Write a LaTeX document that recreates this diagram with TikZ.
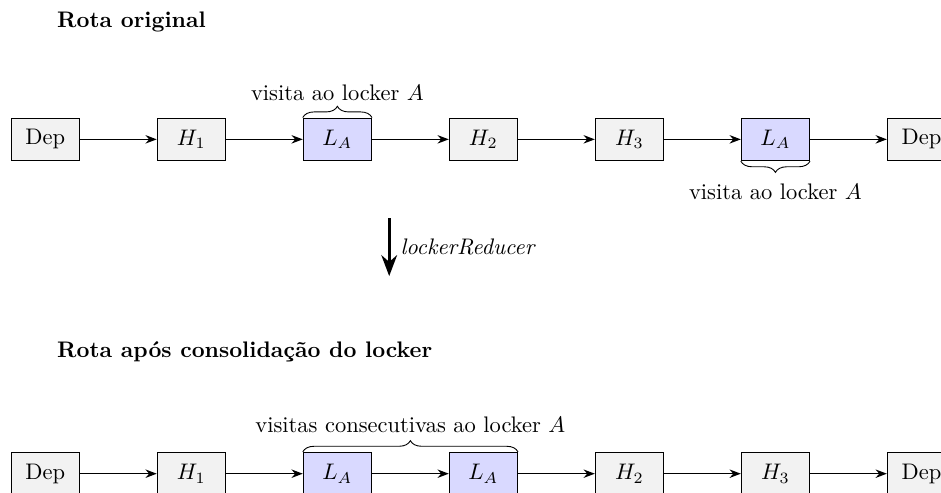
\documentclass[tikz,border=0pt]{standalone}
\usetikzlibrary{positioning,arrows.meta,decorations.pathreplacing}

\tikzset{
    stop/.style={draw, semithick, fill=gray!10, minimum width=1.06cm, minimum height=0.66cm, inner sep=2pt},
    locker/.style={stop, fill=blue!15},
    hop/.style={semithick, -{Stealth[length=5pt]}},
    bracetop/.style={decorate, decoration={brace, amplitude=5pt}, thin},
}

\begin{document}
\begin{tikzpicture}[node distance=1.2cm]
    \useasboundingbox (0,0) rectangle (14.70,-7.69);

    % Original route
    \node[anchor=west] (title1) at (0.77,-0.35) {\textbf{Rota original}};
    \node[stop] (a0) at (0.708,-2.177) {Dep};
    \node[stop, right=of a0] (a1) {$H_1$};
    \node[locker, right=of a1] (a2) {$L_A$};
    \node[stop, right=of a2] (a3) {$H_2$};
    \node[stop, right=of a3] (a4) {$H_3$};
    \node[locker, right=of a4] (a5) {$L_A$};
    \node[stop, right=of a5] (a6) {Dep};
    \foreach \i/\j in {0/1,1/2,2/3,3/4,4/5,5/6} {
        \draw[hop] (a\i) -- (a\j);
    }
    \draw[bracetop] (a2.north west) -- (a2.north east)
        node[midway, above=4pt] {visita ao locker $A$};
    \draw[bracetop] (a5.south east) -- (a5.south west)
        node[midway, below=6.5pt] {visita ao locker $A$};

    % Reduction step
    \coordinate (redtop) at (6.08,-3.406);
    \coordinate (redbot) at (6.08,-4.313);
    \draw[line width=1.4pt, -{Stealth}] (redtop) -- (redbot)
        node[midway, right=1pt] {\textit{lockerReducer}};

    % Route after merging the locker visits
    \node[anchor=west] (title2) at (0.77,-5.50) {\textbf{Rota após consolidação do locker}};
    \node[stop] (b0) at (0.708,-7.40) {Dep};
    \node[stop, right=of b0] (b1) {$H_1$};
    \node[locker, right=of b1] (b2) {$L_A$};
    \node[locker, right=of b2] (b3) {$L_A$};
    \node[stop, right=of b3] (b4) {$H_2$};
    \node[stop, right=of b4] (b5) {$H_3$};
    \node[stop, right=of b5] (b6) {Dep};
    \foreach \i/\j in {0/1,1/2,2/3,3/4,4/5,5/6} {
        \draw[hop] (b\i) -- (b\j);
    }
    \draw[bracetop] (b2.north west) -- (b3.north east)
        node[midway, above=5pt] {visitas consecutivas ao locker $A$};

\end{tikzpicture}
\end{document}
